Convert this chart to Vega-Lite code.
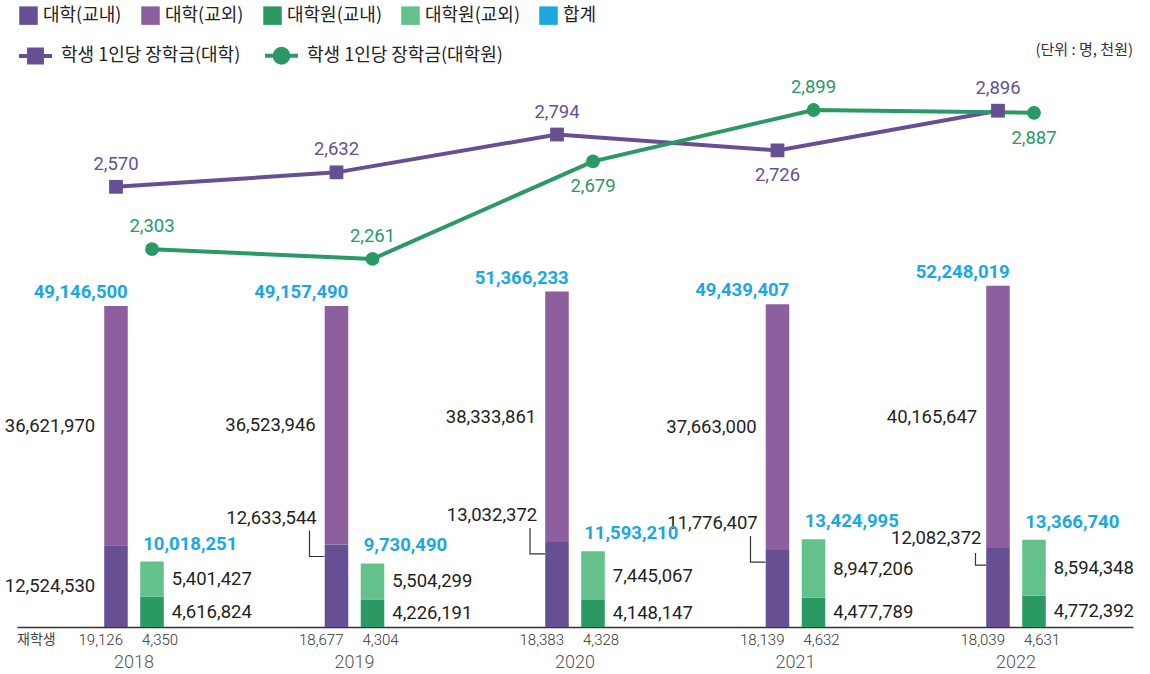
{
  "$schema": "https://vega.github.io/schema/vega-lite/v6.json",
  "width": 1116,
  "height": 552,
  "autosize": {"type": "none"},
  "padding": {"left": 17, "top": 75, "right": 17, "bottom": 47},
  "background": "white",
  "config": {
    "view": {"stroke": null},
    "font": "Roboto",
    "axis": {"grid": false}
  },
  "datasets": {
    "bars": [
      {"year": "2018", "grp": "대학", "part": "대학(교내)", "value": 12524530},
      {"year": "2018", "grp": "대학", "part": "대학(교외)", "value": 36621970},
      {"year": "2018", "grp": "대학원", "part": "대학원(교내)", "value": 4616824},
      {"year": "2018", "grp": "대학원", "part": "대학원(교외)", "value": 5401427},
      {"year": "2019", "grp": "대학", "part": "대학(교내)", "value": 12633544},
      {"year": "2019", "grp": "대학", "part": "대학(교외)", "value": 36523946},
      {"year": "2019", "grp": "대학원", "part": "대학원(교내)", "value": 4226191},
      {"year": "2019", "grp": "대학원", "part": "대학원(교외)", "value": 5504299},
      {"year": "2020", "grp": "대학", "part": "대학(교내)", "value": 13032372},
      {"year": "2020", "grp": "대학", "part": "대학(교외)", "value": 38333861},
      {"year": "2020", "grp": "대학원", "part": "대학원(교내)", "value": 4148147},
      {"year": "2020", "grp": "대학원", "part": "대학원(교외)", "value": 7445067},
      {"year": "2021", "grp": "대학", "part": "대학(교내)", "value": 11776407},
      {"year": "2021", "grp": "대학", "part": "대학(교외)", "value": 37663000},
      {"year": "2021", "grp": "대학원", "part": "대학원(교내)", "value": 4477789},
      {"year": "2021", "grp": "대학원", "part": "대학원(교외)", "value": 8947206},
      {"year": "2022", "grp": "대학", "part": "대학(교내)", "value": 12082372},
      {"year": "2022", "grp": "대학", "part": "대학(교외)", "value": 40165647},
      {"year": "2022", "grp": "대학원", "part": "대학원(교내)", "value": 4772392},
      {"year": "2022", "grp": "대학원", "part": "대학원(교외)", "value": 8594348}
    ],
    "totals": [
      {"year": "2018", "grp": "대학", "total": 49146500, "enrolled": 19126},
      {"year": "2018", "grp": "대학원", "total": 10018251, "enrolled": 4350},
      {"year": "2019", "grp": "대학", "total": 49157490, "enrolled": 18677},
      {"year": "2019", "grp": "대학원", "total": 9730490, "enrolled": 4304},
      {"year": "2020", "grp": "대학", "total": 51366233, "enrolled": 18383},
      {"year": "2020", "grp": "대학원", "total": 11593210, "enrolled": 4328},
      {"year": "2021", "grp": "대학", "total": 49439407, "enrolled": 18139},
      {"year": "2021", "grp": "대학원", "total": 13424995, "enrolled": 4632},
      {"year": "2022", "grp": "대학", "total": 52248019, "enrolled": 18039},
      {"year": "2022", "grp": "대학원", "total": 13366740, "enrolled": 4631}
    ],
    "lines": [
      {"year": "2018", "grp": "대학", "type": "학생 1인당 장학금(대학)", "value": 2570},
      {"year": "2019", "grp": "대학", "type": "학생 1인당 장학금(대학)", "value": 2632},
      {"year": "2020", "grp": "대학", "type": "학생 1인당 장학금(대학)", "value": 2794},
      {"year": "2021", "grp": "대학", "type": "학생 1인당 장학금(대학)", "value": 2726},
      {"year": "2022", "grp": "대학", "type": "학생 1인당 장학금(대학)", "value": 2896},
      {"year": "2018", "grp": "대학원", "type": "학생 1인당 장학금(대학원)", "value": 2303},
      {"year": "2019", "grp": "대학원", "type": "학생 1인당 장학금(대학원)", "value": 2261},
      {"year": "2020", "grp": "대학원", "type": "학생 1인당 장학금(대학원)", "value": 2679},
      {"year": "2021", "grp": "대학원", "type": "학생 1인당 장학금(대학원)", "value": 2899},
      {"year": "2022", "grp": "대학원", "type": "학생 1인당 장학금(대학원)", "value": 2887}
    ],
    "notes": [
      {"note": "(단위 : 명, 천원)", "rowhead": "재학생"}
    ]
  },
  "encoding": {
    "x": {
      "field": "year",
      "type": "nominal",
      "scale": {"paddingInner": 0.73, "paddingOuter": 0.3956},
      "axis": {
        "title": null,
        "labelAngle": 0,
        "ticks": false,
        "domainColor": "#333333",
        "domainWidth": 1.5,
        "labelPadding": 26,
        "labelFontSize": 18,
        "labelFontWeight": 300,
        "labelColor": "#555555",
        "labelFont": "Roboto"
      }
    }
  },
  "layer": [
    {
      "data": {"name": "bars"},
      "layer": [
        {
          "transform": [{"filter": "datum.part === '대학(교내)' && datum.year !== '2018' && datum.year !== '2022'"}],
          "mark": {"type": "point", "shape": "M-0.9,-0.467V0.4H-0.4", "size": 3600, "filled": false, "color": "#333333", "strokeWidth": 1.2, "opacity": 1},
          "encoding": {
            "xOffset": {"field": "grp", "type": "nominal", "scale": {"domain": ["대학", "대학원"], "paddingInner": 0.347, "paddingOuter": 0}},
            "y": {"field": "value", "type": "quantitative", "stack": null, "scale": {"domain": [0, 84530000], "nice": false}, "axis": null}
          }
        },
        {
          "transform": [{"filter": "datum.part === '대학(교내)' && datum.year === '2022'"}],
          "mark": {"type": "point", "shape": "M-0.75,0.167V0.567H-0.4", "size": 3600, "filled": false, "color": "#333333", "strokeWidth": 1.2, "opacity": 1},
          "encoding": {
            "xOffset": {"field": "grp", "type": "nominal"},
            "y": {"field": "value", "type": "quantitative", "stack": null, "axis": null}
          }
        },
        {
          "mark": {"type": "bar"},
          "encoding": {
            "xOffset": {"field": "grp", "type": "nominal"},
            "y": {"field": "value", "type": "quantitative", "stack": "zero", "axis": null},
            "order": {"field": "part", "sort": "ascending"},
            "color": {
              "field": "part",
              "type": "nominal",
              "scale": {
                "domain": ["대학(교내)", "대학(교외)", "대학원(교내)", "대학원(교외)", "합계"],
                "range": ["#674f94", "#8e5f9e", "#2a9963", "#65c18c", "#1ba8e0"]
              },
              "legend": {
                "orient": "none",
                "legendX": 2,
                "legendY": -69,
                "direction": "horizontal",
                "columns": 5,
                "title": null,
                "padding": 0,
                "symbolType": "square",
                "symbolSize": 342,
                "symbolStrokeWidth": 0,
                "symbolOpacity": 1,
                "labelFont": "Noto Sans CJK KR",
                "labelFontSize": 18,
                "labelColor": "#222222",
                "labelOffset": 5,
                "labelLimit": 300,
                "columnPadding": 19
              }
            }
          }
        },
        {
          "transform": [{"filter": "datum.grp === '대학'"}],
          "mark": {"type": "text", "align": "right", "baseline": "middle", "dx": -20.75, "fontSize": 18.5, "color": "#231f20"},
          "encoding": {
            "xOffset": {"field": "grp", "type": "nominal"},
            "y": {"field": "value", "type": "quantitative", "stack": "zero", "bandPosition": 0.5, "axis": null},
            "order": {"field": "part", "sort": "ascending"},
            "detail": {"field": "part"},
            "text": {
              "condition": {"test": "datum.part === '대학(교내)' && datum.year !== '2018'", "value": ""},
              "field": "value", "type": "quantitative", "format": ",d"
            }
          }
        },
        {
          "transform": [{"filter": "datum.grp === '대학원'"}],
          "mark": {"type": "text", "align": "left", "baseline": "middle", "dx": 19.75, "fontSize": 18.5, "color": "#231f20"},
          "encoding": {
            "xOffset": {"field": "grp", "type": "nominal"},
            "y": {"field": "value", "type": "quantitative", "stack": "zero", "bandPosition": 0.5, "axis": null},
            "order": {"field": "part", "sort": "ascending"},
            "detail": {"field": "part"},
            "text": {"field": "value", "type": "quantitative", "format": ",d"}
          }
        },
        {
          "transform": [{"filter": "datum.part === '대학(교내)' && datum.year !== '2018' && datum.year !== '2022'"}],
          "mark": {"type": "text", "align": "right", "baseline": "middle", "dx": -19.75, "dy": -27, "fontSize": 18.5, "color": "#231f20"},
          "encoding": {
            "xOffset": {"field": "grp", "type": "nominal"},
            "y": {"field": "value", "type": "quantitative", "stack": null, "axis": null},
            "text": {"field": "value", "type": "quantitative", "format": ",d"}
          }
        },
        {
          "transform": [{"filter": "datum.part === '대학(교내)' && datum.year === '2022'"}],
          "mark": {"type": "text", "align": "right", "baseline": "middle", "dx": -16.5, "dy": -10, "fontSize": 18.5, "color": "#231f20"},
          "encoding": {
            "xOffset": {"field": "grp", "type": "nominal"},
            "y": {"field": "value", "type": "quantitative", "stack": null, "axis": null},
            "text": {"field": "value", "type": "quantitative", "format": ",d"}
          }
        },
        {
          "data": {"name": "totals"},
          "transform": [{"filter": "datum.grp === '대학'"}],
          "mark": {"type": "text", "align": "right", "baseline": "middle", "dx": 11.75, "dy": -14, "fontSize": 18.5, "fontWeight": "bold", "color": "#1ba8e0"},
          "encoding": {
            "xOffset": {"field": "grp", "type": "nominal"},
            "y": {"field": "total", "type": "quantitative", "axis": null},
            "text": {"field": "total", "type": "quantitative", "format": ",d"}
          }
        },
        {
          "data": {"name": "totals"},
          "transform": [{"filter": "datum.grp === '대학원'"}],
          "mark": {"type": "text", "align": "left", "baseline": "middle", "dx": -8.75, "dy": -18, "fontSize": 18.5, "fontWeight": "bold", "color": "#1ba8e0"},
          "encoding": {
            "xOffset": {"field": "grp", "type": "nominal"},
            "y": {"field": "total", "type": "quantitative", "axis": null},
            "text": {"field": "total", "type": "quantitative", "format": ",d"}
          }
        },
        {
          "data": {"name": "totals"},
          "transform": [{"filter": "datum.grp === '대학'"}],
          "mark": {"type": "text", "align": "right", "baseline": "middle", "dx": 7, "dy": 13, "fontSize": 15, "fontWeight": 300, "color": "#333333"},
          "encoding": {
            "xOffset": {"field": "grp", "type": "nominal"},
            "y": {"datum": 0, "type": "quantitative", "axis": null},
            "text": {"field": "enrolled", "type": "quantitative", "format": ",d"}
          }
        },
        {
          "data": {"name": "totals"},
          "transform": [{"filter": "datum.grp === '대학원'"}],
          "mark": {"type": "text", "align": "left", "baseline": "middle", "dx": -10, "dy": 13, "fontSize": 15, "fontWeight": 300, "color": "#333333"},
          "encoding": {
            "xOffset": {"field": "grp", "type": "nominal"},
            "y": {"datum": 0, "type": "quantitative", "axis": null},
            "text": {"field": "enrolled", "type": "quantitative", "format": ",d"}
          }
        },
        {
          "data": {"name": "notes"},
          "mark": {"type": "text", "align": "left", "baseline": "middle", "dx": -117, "dy": 13, "fontSize": 14, "font": "Noto Sans CJK KR", "color": "#444444"},
          "encoding": {
            "x": {"datum": "2018", "type": "nominal"},
            "y": {"datum": 0, "type": "quantitative", "axis": null},
            "text": {"field": "rowhead"}
          }
        },
        {
          "data": {"name": "notes"},
          "mark": {"type": "text", "align": "right", "baseline": "middle", "dx": 117, "dy": -25, "fontSize": 15, "font": "Noto Sans CJK KR", "color": "#333333"},
          "encoding": {
            "x": {"datum": "2022", "type": "nominal"},
            "y": {"datum": 84530000, "type": "quantitative", "axis": null},
            "text": {"field": "note"}
          }
        }
      ]
    },
    {
      "data": {"name": "lines"},
      "layer": [
        {
          "mark": {"type": "line", "strokeWidth": 4},
          "encoding": {
            "xOffset": {"field": "grp", "type": "nominal"},
            "y": {"field": "value", "type": "quantitative", "scale": {"domain": [684.9, 3048.9], "nice": false, "zero": false}, "axis": null},
            "color": {
              "field": "type",
              "type": "nominal",
              "scale": {"domain": ["학생 1인당 장학금(대학)", "학생 1인당 장학금(대학원)"], "range": ["#674f94", "#2a9963"]},
              "legend": {
                "orient": "none",
                "legendX": 0,
                "legendY": -38,
                "direction": "horizontal",
                "columns": 2,
                "title": null,
                "padding": 0,
                "symbolSize": 1089,
                "symbolStrokeWidth": 4,
                "labelFont": "Noto Sans CJK KR",
                "labelFontSize": 18,
                "labelColor": "#222222",
                "labelOffset": 7,
                "labelLimit": 400,
                "columnPadding": 16,
                "encode": {
                  "symbols": {
                    "update": {
                      "shape": {"signal": "datum.index === 0 ? 'M-1,0H1M-0.39,-0.39H0.39V0.39H-0.39Z' : 'M-1,0H1M-0.42,0A0.42,0.42 0 1,0 0.42,0A0.42,0.42 0 1,0 -0.42,0Z'"},
                      "fill": {"signal": "datum.index === 0 ? '#674f94' : '#2a9963'"},
                      "fillOpacity": {"value": 1},
                      "strokeWidth": {"value": 4}
                    }
                  }
                }
              }
            }
          }
        },
        {
          "mark": {"type": "point", "filled": true, "size": 190, "opacity": 1},
          "encoding": {
            "xOffset": {"field": "grp", "type": "nominal"},
            "y": {"field": "value", "type": "quantitative", "axis": null},
            "color": {"field": "type", "type": "nominal"},
            "shape": {"field": "type", "type": "nominal", "scale": {"range": ["square", "circle"]}, "legend": null}
          }
        },
        {
          "transform": [{"filter": "!((datum.grp === '대학' && datum.year === '2021') || (datum.grp === '대학원' && (datum.year === '2020' || datum.year === '2022')))"}],
          "mark": {"type": "text", "baseline": "middle", "align": "center", "dy": -23, "fontSize": 18.5},
          "encoding": {
            "xOffset": {"field": "grp", "type": "nominal"},
            "y": {"field": "value", "type": "quantitative", "axis": null},
            "color": {"field": "type", "type": "nominal"},
            "text": {"field": "value", "type": "quantitative", "format": ",d"}
          }
        },
        {
          "transform": [{"filter": "(datum.grp === '대학' && datum.year === '2021') || (datum.grp === '대학원' && (datum.year === '2020' || datum.year === '2022'))"}],
          "mark": {"type": "text", "baseline": "middle", "align": "center", "dy": 25, "fontSize": 18.5},
          "encoding": {
            "xOffset": {"field": "grp", "type": "nominal"},
            "y": {"field": "value", "type": "quantitative", "axis": null},
            "color": {"field": "type", "type": "nominal"},
            "text": {"field": "value", "type": "quantitative", "format": ",d"}
          }
        }
      ]
    }
  ],
  "resolve": {"scale": {"y": "independent", "color": "independent"}}
}
